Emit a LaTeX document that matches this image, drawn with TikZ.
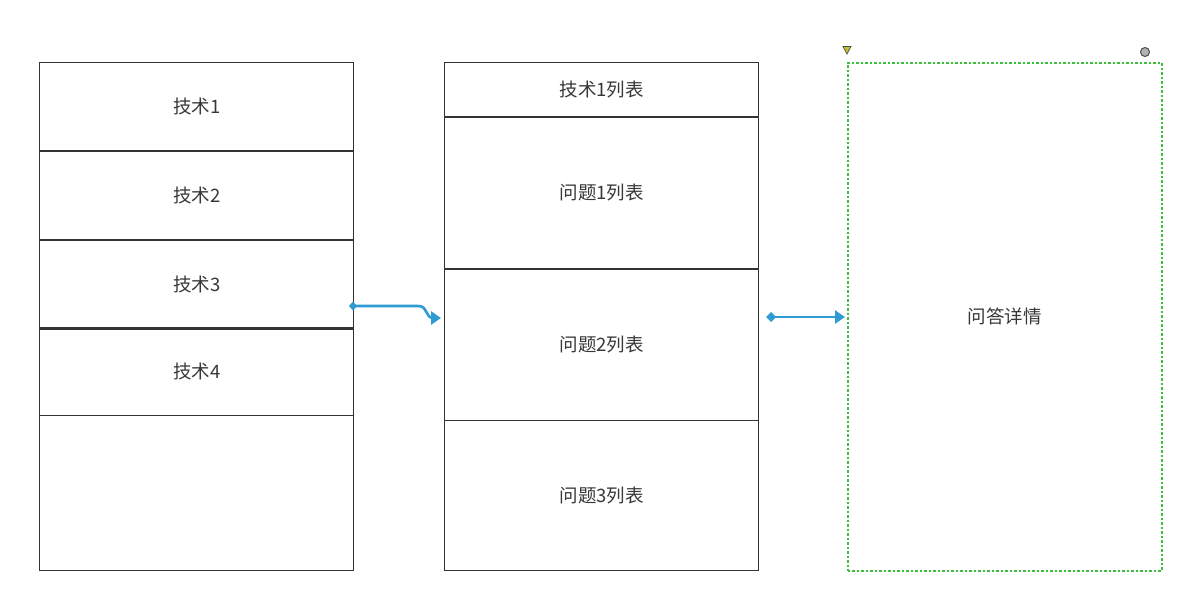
\documentclass[tikz,border=0pt]{standalone}
\usepackage{fontspec}
\newfontfamily\cjk{Noto Sans CJK SC}
\usetikzlibrary{arrows.meta}
\definecolor{edge}{HTML}{333333}
\definecolor{conn}{HTML}{2E9BD3}
\definecolor{selg}{HTML}{3DBE3D}
\tikzset{
  cell/.style={draw=edge, line width=1.3pt, fill=white, inner sep=0pt, font=\cjk\fontsize{18.5}{22}\selectfont, text=black!78},
  divider/.style={draw=edge, line width=2pt},
  link/.style={draw=conn, line width=2.6pt, -{Triangle[length=10pt,width=13pt]}},
  dstart/.style={{Diamond[length=10pt,width=10pt]}-{Triangle[length=10pt,width=13pt]}}
}
\begin{document}
\begin{tikzpicture}[x=1pt,y=-1pt]
\useasboundingbox[fill=white] (0,0) rectangle (1180,610);
% left column
\node[cell, minimum width=314pt, minimum height=88pt, anchor=north west] (t1) at (39,62) {技术1};
\node[cell, minimum width=314pt, minimum height=89pt, anchor=north west] (t2) at (39,150) {技术2};
\node[cell, minimum width=314pt, minimum height=89pt, anchor=north west] (t3) at (39,239) {技术3};
\node[cell, minimum width=314pt, minimum height=88pt, anchor=north west] (t4) at (39,327) {技术4};
\node[cell, minimum width=314pt, minimum height=155pt, anchor=north west] (t5) at (39,415) {};
\draw[divider] (t1.south west) -- (t1.south east);
\draw[divider] (t2.south west) -- (t2.south east);
\draw[divider] (t3.south west) -- (t3.south east);
% middle column
\node[cell, minimum width=314pt, minimum height=54pt, anchor=north west] (m0) at (444,62) {技术1列表};
\node[cell, minimum width=314pt, minimum height=152pt, anchor=north west] (m1) at (444,116) {问题1列表};
\node[cell, minimum width=314pt, minimum height=152pt, anchor=north west] (m2) at (444,268) {问题2列表};
\node[cell, minimum width=314pt, minimum height=150pt, anchor=north west] (m3) at (444,420) {问题3列表};
\draw[divider] (m0.south west) -- (m0.south east);
\draw[divider] (m1.south west) -- (m1.south east);
% right box
\node[cell, draw=selg, dash pattern=on 2.5pt off 2pt, line width=1.8pt, minimum width=314pt, minimum height=508pt, anchor=north west] (qa) at (847,62) {问答详情};
% selection markers
\fill[yellow!75!black, draw=black!70, line width=0.7pt] (843,46.5) -- (851,46.5) -- (847,54) -- cycle;
\node[circle, draw=black!70, fill=black!30, line width=1pt, minimum size=9pt, inner sep=0pt] (mk2) at (1145,52) {};
% connectors
\coordinate (a0) at (353,306);
\coordinate (a1) at (441,318);
\fill[conn] (a0) ++(-4,0) -- ++(4,-4.5) -- ++(4,4.5) -- ++(-4,4.5) -- cycle;
\draw[link] (a0) -- (418,306) .. controls (429,306) and (424,318) .. (434,318) -- (a1);
\coordinate (b0) at (766,317);
\coordinate (b1) at (845,317);
\draw[link, dstart] (b0) -- (b1);
\end{tikzpicture}
\end{document}
